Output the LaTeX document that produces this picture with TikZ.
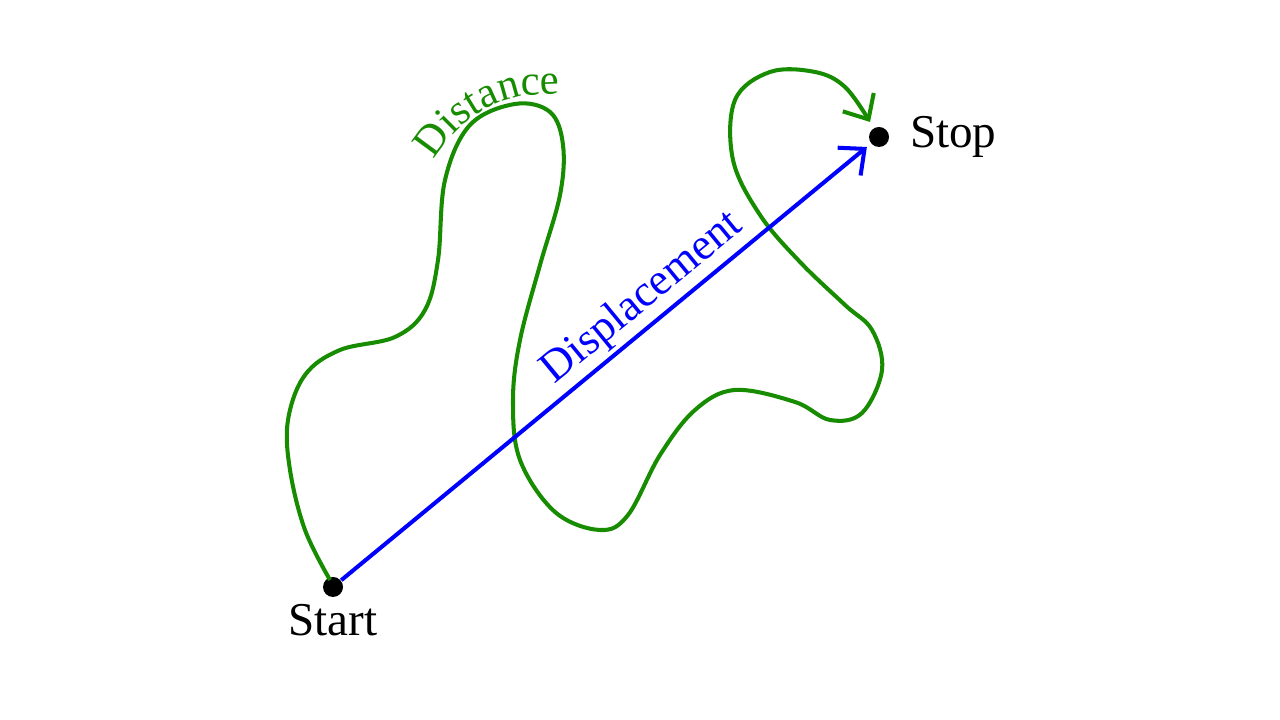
\documentclass[tikz,border=0pt]{standalone}
\usepackage{fontspec}
\setmainfont{Liberation Serif}
\usepackage{xcolor}
\definecolor{cDist}{HTML}{178C00}
\definecolor{cDisp}{HTML}{0000FF}
\usepackage{tikz}
\usetikzlibrary{positioning,arrows.meta,decorations.text}
\newcommand{\labfont}{\fontsize{13.4}{16}\selectfont}
\newcommand{\pathfont}{\fontsize{12.7}{15}\selectfont}
\newcommand{\curvefont}{\fontsize{12.2}{15}\selectfont}
\tikzset{
  node-dot/.style={circle,fill=black,inner sep=0pt,minimum size=2mm},
  node-label/.style={font=\labfont,text=black},
  arrow-dist/.style={-{Straight Barb[length=2mm,width=3.6mm]},line width=1.15pt,draw=cDist},
  arrow-disp/.style={-{Straight Barb[length=2mm,width=3.6mm]},line width=1.15pt,draw=cDisp},
}
\begin{document}
\begin{tikzpicture}
  \useasboundingbox (0,0) rectangle (12.8,7.2);
  % end points
  \node[node-dot] (start) at (3.33,1.33) {};
  \node[node-dot] (stop)  at (8.79,5.83) {};
  \node[node-label,below=-0.6mm of start] (start-lab) {Start};
  \node[node-label,right=0.8mm of stop]  (stop-lab)  {Stop};
  % distance (wandering path)
  \draw[arrow-dist] plot[smooth,tension=0.6] coordinates {
    (3.30,1.40) (3.05,1.90) (2.90,2.50) (2.88,3.00) (3.05,3.45) (3.40,3.70)
    (3.95,3.83) (4.25,4.10) (4.38,4.60) (4.45,5.40) (4.70,5.95) (5.15,6.16)
    (5.50,6.08) (5.63,5.75) (5.60,5.25) (5.40,4.55) (5.20,3.80) (5.13,3.20)
    (5.20,2.60) (5.55,2.08) (6.00,1.90) (6.28,2.05) (6.60,2.65) (6.95,3.10)
    (7.35,3.30) (7.95,3.18) (8.30,3.00) (8.62,3.07) (8.82,3.50) (8.72,3.90)
    (8.45,4.15) (8.00,4.58) (7.60,5.05) (7.33,5.60) (7.35,6.20) (7.70,6.48)
    (8.15,6.48) (8.45,6.33) (8.70,5.98)};
  \path[decorate,decoration={text along path,
      text={|\curvefont\color{cDist}|Distance}}]
    (4.34,5.60) .. controls (4.55,5.95) and (4.85,6.18) .. (5.30,6.25) -- (5.90,6.27);
  % displacement (straight arrow)
  \draw[arrow-disp,shorten >=0.5mm] (start) -- (stop)
    node[sloped,above,inner sep=1pt,pos=0.6,font=\pathfont,text=cDisp] (disp-lab) {Displacement};
\end{tikzpicture}
\end{document}
